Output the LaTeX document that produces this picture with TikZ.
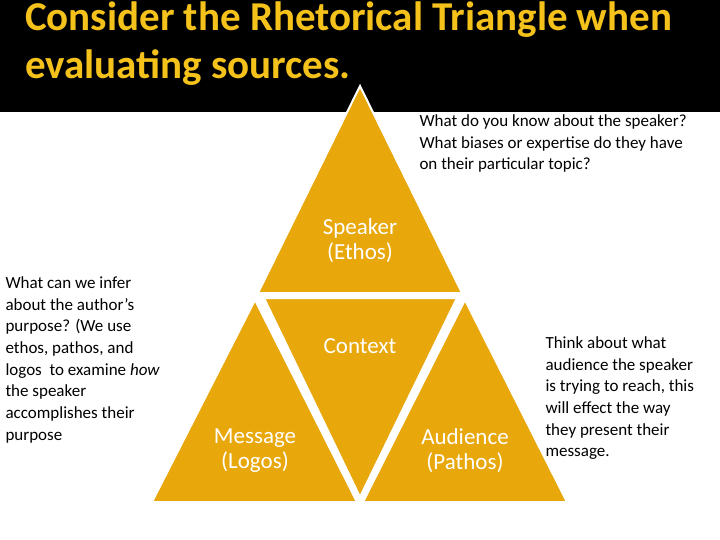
\documentclass[tikz,border=0pt]{standalone}
\usepackage{fontspec}
\setmainfont{Carlito}
\definecolor{gold}{HTML}{E8A70A}
\definecolor{ttl}{HTML}{F5C21B}
\begin{document}
\begin{tikzpicture}[x=1pt,y=-1pt,
 tri/.style={fill=gold,draw=white,line width=2pt},
 lab/.style={text=white,font=\fontsize{23}{25}\selectfont,align=center},
 side/.style={font=\fontsize{17}{21.7}\selectfont,align=left,anchor=north west}]
\useasboundingbox (0,0) rectangle (720,540);
\fill[white] (0,0) rectangle (720,540);
\fill[black] (0,0) rectangle (720,112);
\node[anchor=north west,text=ttl,font=\fontsize{41}{48}\selectfont\bfseries,align=left,inner sep=0pt] (title) at (25,2) {Consider the Rhetorical Triangle when\\evaluating sources.};
\draw[tri] (360,86) -- (258,293) -- (462,293) -- cycle;
\draw[tri] (255,300) -- (152,502) -- (357,502) -- cycle;
\draw[tri] (264,298) -- (457,298) -- (360,497) -- cycle;
\draw[tri] (465,300) -- (363,502) -- (567,502) -- cycle;
\node[lab] (sp) at (360,241) {Speaker\\(Ethos)};
\node[lab] (ctx) at (360,346) {Context};
\node[lab] (msg) at (255,451) {Message\\(Logos)};
\node[lab] (aud) at (465,451) {Audience\\(Pathos)};
\node[side] (t1) at (416,111) {What do you know about the speaker?\\What biases or expertise do they have\\on their particular topic?};
\node[side] (t2) at (2,273) {What can we infer\\about the author’s\\purpose? (We use\\ethos, pathos, and\\logos \ to examine \textit{how}\\the speaker\\accomplishes their\\purpose};
\node[side] (t3) at (542,333) {Think about what\\audience the speaker\\is trying to reach, this\\will effect the way\\they present their\\message.};
\end{tikzpicture}
\end{document}
